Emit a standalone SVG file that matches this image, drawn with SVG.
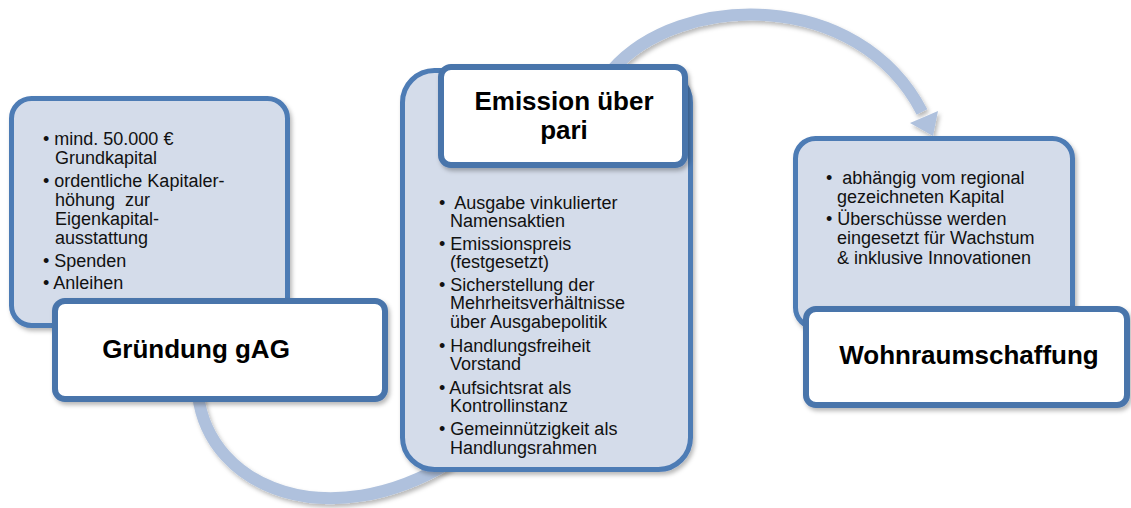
<svg xmlns="http://www.w3.org/2000/svg" width="1131" height="508" viewBox="0 0 1131 508">
<defs>
<filter id="sh" x="-10%" y="-10%" width="125%" height="125%">
<feDropShadow dx="2" dy="3" stdDeviation="2" flood-color="#000" flood-opacity="0.28"/>
</filter>
</defs>
<style>
.arc{fill:none;stroke:#afc1dd;stroke-width:12}
.head{fill:#afc1dd}
.lt{fill:#d4dcea;stroke:#4e7bb5;stroke-width:5}
.wt{fill:#ffffff;stroke:#4874ab;stroke-width:6}
.b{font-family:"Liberation Sans",Arial,sans-serif;font-size:18px;fill:#111;white-space:pre}
.t{font-family:"Liberation Sans",Arial,sans-serif;font-size:26px;font-weight:bold;fill:#000;text-anchor:middle}
</style>
<g id="connectors" filter="url(#sh)">
<path class="arc" d="M198 395 C210 490 330 535 450 462"/>
<path class="arc" d="M612 70 C680 -8 858 -12 922 112"/>
<polygon class="head" points="910,123 938,111 933,136"/>
</g>
<g id="node1">
<rect class="lt" x="11.5" y="98.5" width="276" height="227" rx="20" filter="url(#sh)"/>
<text class="b" xml:space="preserve"><tspan x="43" y="145">• mind. 50.000 €</tspan><tspan x="55" y="164">Grundkapital</tspan><tspan x="43" y="187">• ordentliche Kapitaler-</tspan><tspan x="55" y="206">höhung  zur</tspan><tspan x="55" y="225">Eigenkapital-</tspan><tspan x="55" y="244">ausstattung</tspan><tspan x="43" y="267">• Spenden</tspan><tspan x="43" y="289">• Anleihen</tspan></text>
<rect class="wt" x="55" y="301" width="330" height="98" rx="10" filter="url(#sh)"/>
<text class="t" x="196" y="358">Gründung gAG</text>
</g>
<g id="node2">
<rect class="lt" x="402.5" y="70.5" width="288" height="399" rx="32" filter="url(#sh)"/>
<rect class="wt" x="441" y="67" width="244" height="98" rx="10" filter="url(#sh)"/>
<text class="t"><tspan x="564" y="110">Emission über</tspan><tspan x="564" y="139">pari</tspan></text>
<text class="b" xml:space="preserve"><tspan x="439" y="209">•  Ausgabe vinkulierter</tspan><tspan x="450" y="227">Namensaktien</tspan><tspan x="439" y="250">• Emissionspreis</tspan><tspan x="450" y="268">(festgesetzt)</tspan><tspan x="439" y="291">• Sicherstellung der</tspan><tspan x="450" y="309">Mehrheitsverhältnisse</tspan><tspan x="450" y="328">über Ausgabepolitik</tspan><tspan x="439" y="352">• Handlungsfreiheit</tspan><tspan x="450" y="370">Vorstand</tspan><tspan x="439" y="394">• Aufsichtsrat als</tspan><tspan x="450" y="412">Kontrollinstanz</tspan><tspan x="439" y="435">• Gemeinnützigkeit als</tspan><tspan x="450" y="454">Handlungsrahmen</tspan></text>
</g>
<g id="node3">
<rect class="lt" x="795.5" y="138.5" width="277" height="189" rx="20" filter="url(#sh)"/>
<text class="b" xml:space="preserve"><tspan x="826" y="184">•  abhängig vom regional</tspan><tspan x="837" y="203">gezeichneten Kapital</tspan><tspan x="826" y="225">• Überschüsse werden</tspan><tspan x="837" y="244">eingesetzt für Wachstum</tspan><tspan x="837" y="264">&amp; inklusive Innovationen</tspan></text>
<rect class="wt" x="806" y="309" width="321" height="96" rx="10" filter="url(#sh)"/>
<text class="t" x="969" y="364">Wohnraumschaffung</text>
</g>
</svg>
